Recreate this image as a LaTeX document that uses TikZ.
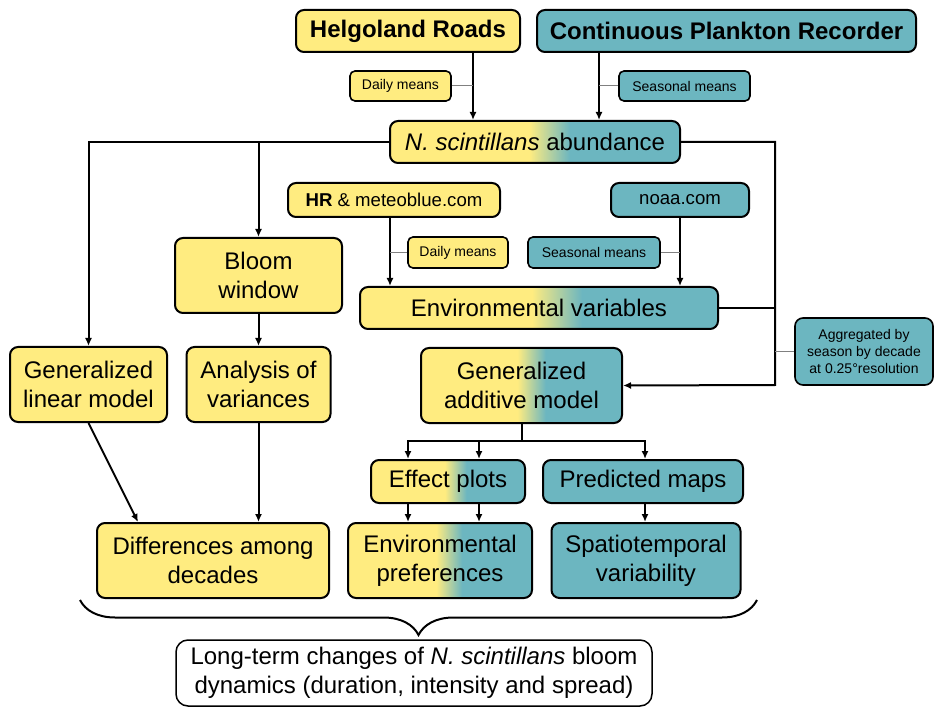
\documentclass[tikz,border=0pt]{standalone}
\usepackage{fontspec}
\setmainfont{Liberation Sans}
\usepackage{tikz}
\usetikzlibrary{arrows.meta,decorations.pathreplacing}

\definecolor{hryellow}{RGB}{255,236,128}
\definecolor{cprteal}{RGB}{108,182,192}
\pgfdeclarehorizontalshading{hrcpr}{100bp}{color(0bp)=(hryellow); color(49bp)=(hryellow); color(56bp)=(cprteal); color(100bp)=(cprteal)}
\newcommand{\bigtxt}{\fontsize{24}{29}\selectfont}
\newcommand{\midtxt}{\fontsize{18.6}{22}\selectfont}
\newcommand{\smalltxt}{\fontsize{14}{17}\selectfont}

\begin{document}
\begin{tikzpicture}[x=1pt, y=-1pt,
		box/.style={draw, line width=2pt, rounded corners=8pt, align=center, inner sep=0pt, font=\bigtxt},
		yel/.style={box, fill=hryellow},
		tea/.style={box, fill=cprteal},
		mix/.style={box, shade, shading=hrcpr},
		lab/.style={draw, line width=1.6pt, rounded corners=5pt, align=center, inner sep=0pt, font=\smalltxt},
		arr/.style={line width=2pt, -{Latex[length=8pt,width=7pt]}},
		lnk/.style={line width=1pt, gray}]
			\useasboundingbox (0,0) rectangle (934,708);
			% Data sources
			\node[yel, font=\bigtxt\bfseries, minimum width=224, minimum height=42] (hr) at (408,31) {Helgoland Roads};
			\node[tea, font=\bigtxt\bfseries, minimum width=379, minimum height=42] (cpr) at (726.5,31) {Continuous Plankton Recorder};
			\node[lab, fill=hryellow, minimum width=101, minimum height=30] (dailyhr) at (400.5,86) {Daily means};
			\node[lab, fill=cprteal, minimum width=131, minimum height=30] (seasonalcpr) at (684.5,86) {Seasonal means};
			\node[mix, minimum width=290, minimum height=42] (abund) at (535,142) {\textit{N. scintillans} abundance};
			% Environment
			\node[yel, minimum width=212, minimum height=34, font=\midtxt] (meteo) at (394,200) {\textbf{HR} \& meteoblue.com};
			\node[tea, minimum width=138, minimum height=34, font=\midtxt] (noaa) at (680,200) {noaa.com};
			\node[lab, fill=hryellow, minimum width=100, minimum height=31] (dailyenv) at (458,252.5) {Daily means};
			\node[lab, fill=cprteal, minimum width=132, minimum height=31] (seasonalenv) at (594,252.5) {Seasonal means};
			\node[mix, minimum width=358, minimum height=42] (envvar) at (539,308) {Environmental variables};
			\node[lab, fill=cprteal, minimum width=138, minimum height=67, rounded corners=8pt] (aggr) at (864,351.5) {Aggregated by\\season by decade\\at 0.25°resolution};
			% Models
			\node[yel, minimum width=167, minimum height=75] (bloom) at (258.5,275.5) {Bloom\\window};
			\node[yel, minimum width=157, minimum height=75] (glm) at (88.5,384.5) {Generalized\\linear model};
			\node[yel, minimum width=144, minimum height=75] (anova) at (258.5,384.5) {Analysis of\\variances};
			\node[mix, minimum width=201, minimum height=75] (gam) at (521.5,385.5) {Generalized\\additive model};
			\node[mix, minimum width=154, minimum height=43] (effect) at (448,481.5) {Effect plots};
			\node[tea, minimum width=200, minimum height=43] (maps) at (643,481.5) {Predicted maps};
			% Results
			\node[yel, minimum width=232, minimum height=75] (diff) at (213,560.5) {Differences among\\decades};
			\node[mix, minimum width=184, minimum height=75] (pref) at (440,560.5) {Environmental\\preferences};
			\node[tea, minimum width=189, minimum height=75] (spatio) at (646,560.5) {Spatiotemporal\\variability};
			\node[box, fill=white, line width=1.5pt, rounded corners=12pt, minimum width=476, minimum height=66] (longterm) at (414,673) {Long-term changes of \textit{N. scintillans} bloom\\dynamics (duration, intensity and spread)};
			% Connectors
			\draw[arr] (hr.south -| 473,0) -- (abund.north -| 473,0);
			\draw[arr] (cpr.south -| 599,0) -- (abund.north -| 599,0);
			\draw[lnk] (dailyhr.east) -- (dailyhr.east -| 473,0);
			\draw[lnk] (seasonalcpr.west) -- (seasonalcpr.west -| 599,0);
			\draw[arr] (abund.west) -| (glm.north);
			\draw[arr] (abund.west -| bloom.north) -- (bloom.north);
			\coordinate (rail) at (775,385);
			\draw[arr] (abund.east) -| (rail) -- (gam.east);
			\draw[line width=2pt] (envvar.east) -- (envvar.east -| rail);
			\draw[lnk] (aggr.west) -- (aggr.west -| rail);
			\draw[arr] (meteo.south -| 390,0) -- (envvar.north -| 390,0);
			\draw[arr] (noaa.south) -- (envvar.north -| noaa.south);
			\draw[lnk] (dailyenv.west) -- (dailyenv.west -| 390,0);
			\draw[lnk] (seasonalenv.east) -- (seasonalenv.east -| noaa.south);
			\draw[arr] (bloom.south) -- (anova.north);
			\draw[arr] (glm.south) -- ([xshift=42]diff.north west);
			\draw[arr] (anova.south) -- (diff.north -| anova.south);
			\coordinate (split) at (gam.south |- 0,441);
			\draw[line width=2pt] (gam.south) -- (split);
			\foreach \x in {408,479} {
				\draw[arr] (split) -| (effect.north -| \x,0);
				\draw[arr] (effect.south -| \x,0) -- (pref.north -| \x,0);
			}
			\draw[arr] (split) -| (maps.north -| 645,0);
			\draw[arr] (maps.south -| 645,0) -- (spatio.north -| 645,0);
			\draw[line width=2pt, decorate, decoration={brace, mirror, amplitude=35}] (80,600) -- (757,600);
		\end{tikzpicture}
\end{document}
